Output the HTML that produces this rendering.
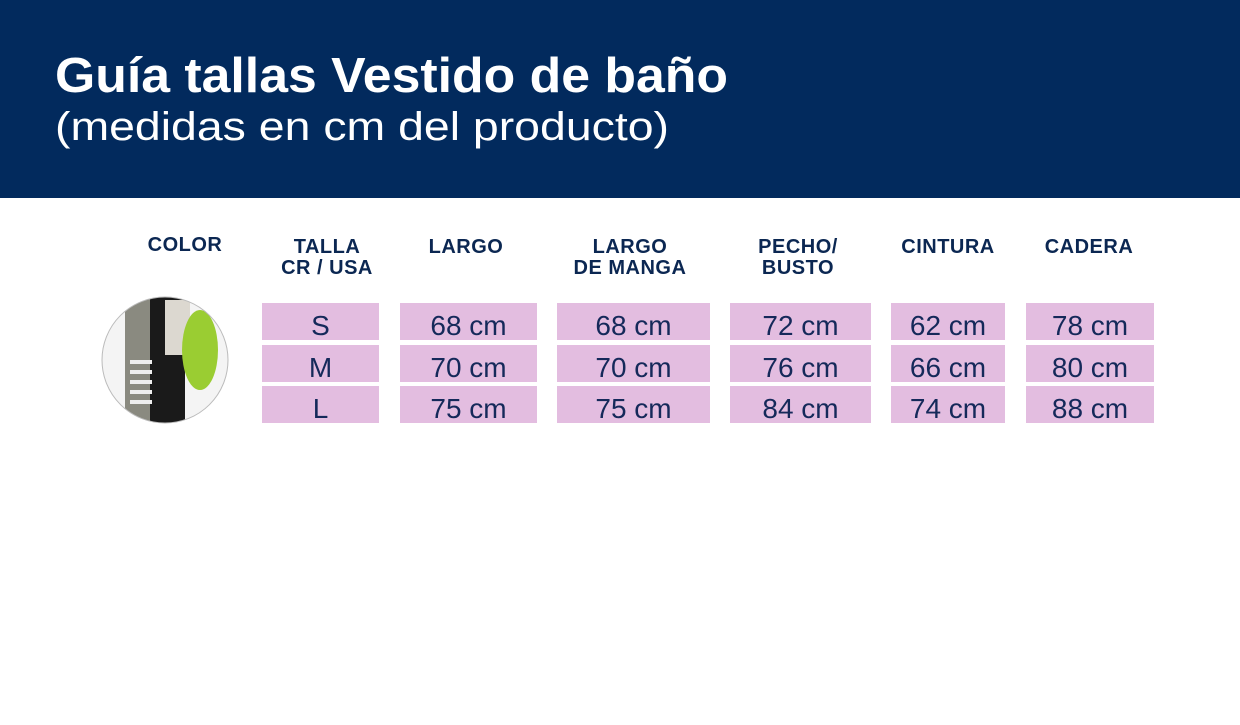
<!DOCTYPE html>
<html><head><meta charset="utf-8"><style>
body{margin:0;width:1240px;height:720px;background:#fff;overflow:hidden;font-family:"Liberation Sans",sans-serif}
</style></head><body>
<svg width="1240" height="720" xmlns="http://www.w3.org/2000/svg">
<rect x="0" y="0" width="1240" height="198" fill="#022a5d"/>
<text x="55" y="92" font-size="49" font-weight="bold" fill="#fff" textLength="673" lengthAdjust="spacingAndGlyphs">Guía tallas Vestido de baño</text>
<text x="55" y="140" font-size="40" fill="#fff" textLength="614" lengthAdjust="spacingAndGlyphs">(medidas en cm del producto)</text>
<g>
<clipPath id="c"><circle cx="165" cy="360" r="63"/></clipPath>
<g clip-path="url(#c)">
<rect x="100" y="295" width="130" height="130" fill="#f4f4f4"/>
<rect x="125" y="295" width="30" height="130" fill="#8a8a80"/>
<rect x="150" y="295" width="35" height="130" fill="#1a1a1a"/>
<rect x="165" y="300" width="25" height="55" fill="#dcd8d0"/>
<ellipse cx="200" cy="350" rx="18" ry="40" fill="#9acd32"/>
<g fill="#eee"><rect x="130" y="360" width="22" height="4"/><rect x="130" y="370" width="22" height="4"/><rect x="130" y="380" width="22" height="4"/><rect x="130" y="390" width="22" height="4"/><rect x="130" y="400" width="22" height="4"/></g>
</g>
<circle cx="165" cy="360" r="63" fill="none" stroke="#bbb" stroke-width="1"/>
</g>
<g id="tbl" fill="#0e2a57"></g>
</svg>
<script>
const headers=[["COLOR"],["TALLA","CR / USA"],["LARGO"],["LARGO","DE MANGA"],["PECHO/","BUSTO"],["CINTURA"],["CADERA"]];
const sizes=["S","M","L"];
const largo=["68 cm","70 cm","75 cm"];
const manga=["68 cm","70 cm","75 cm"];
const pecho=["72 cm","76 cm","84 cm"];
const cintura=["62 cm","66 cm","74 cm"];
const cadera=["78 cm","80 cm","88 cm"];
const cols=[[262,379],[400,537],[557,710],[730,871],[891,1005],[1026,1154]];
const rows=[[303,340],[345,382],[386,423]];
const data=[sizes,largo,manga,pecho,cintura,cadera];
const g=document.getElementById('tbl');
const ns="http://www.w3.org/2000/svg";
const hx=[185,327,466,630,798,948,1089];
headers.forEach((h,i)=>{h.forEach((line,j)=>{
 const t=document.createElementNS(ns,'text');
 t.setAttribute('x',hx[i]);t.setAttribute('y',i==0?251+j*21:253+j*21);
 t.setAttribute('text-anchor','middle');t.setAttribute('font-size','20');t.setAttribute('font-weight','bold');t.setAttribute('fill','#0b2752');
 t.setAttribute('letter-spacing','0.5');
 t.textContent=line;
 
 
 g.appendChild(t);});});
data.forEach((col,c)=>{col.forEach((v,r)=>{
 const rc=document.createElementNS(ns,'rect');
 rc.setAttribute('x',cols[c][0]);rc.setAttribute('y',rows[r][0]);
 rc.setAttribute('width',cols[c][1]-cols[c][0]);rc.setAttribute('height',rows[r][1]-rows[r][0]);
 rc.setAttribute('fill','#e3bde0');
 
 
 g.appendChild(rc);
 const t=document.createElementNS(ns,'text');
 t.setAttribute('x',(cols[c][0]+cols[c][1])/2);t.setAttribute('y',rows[r][1]-5);
 t.setAttribute('text-anchor','middle');t.setAttribute('font-size','28');t.setAttribute('fill','#15295a');
 t.textContent=v;
 
 
 g.appendChild(t);});});
</script>
</body></html>
